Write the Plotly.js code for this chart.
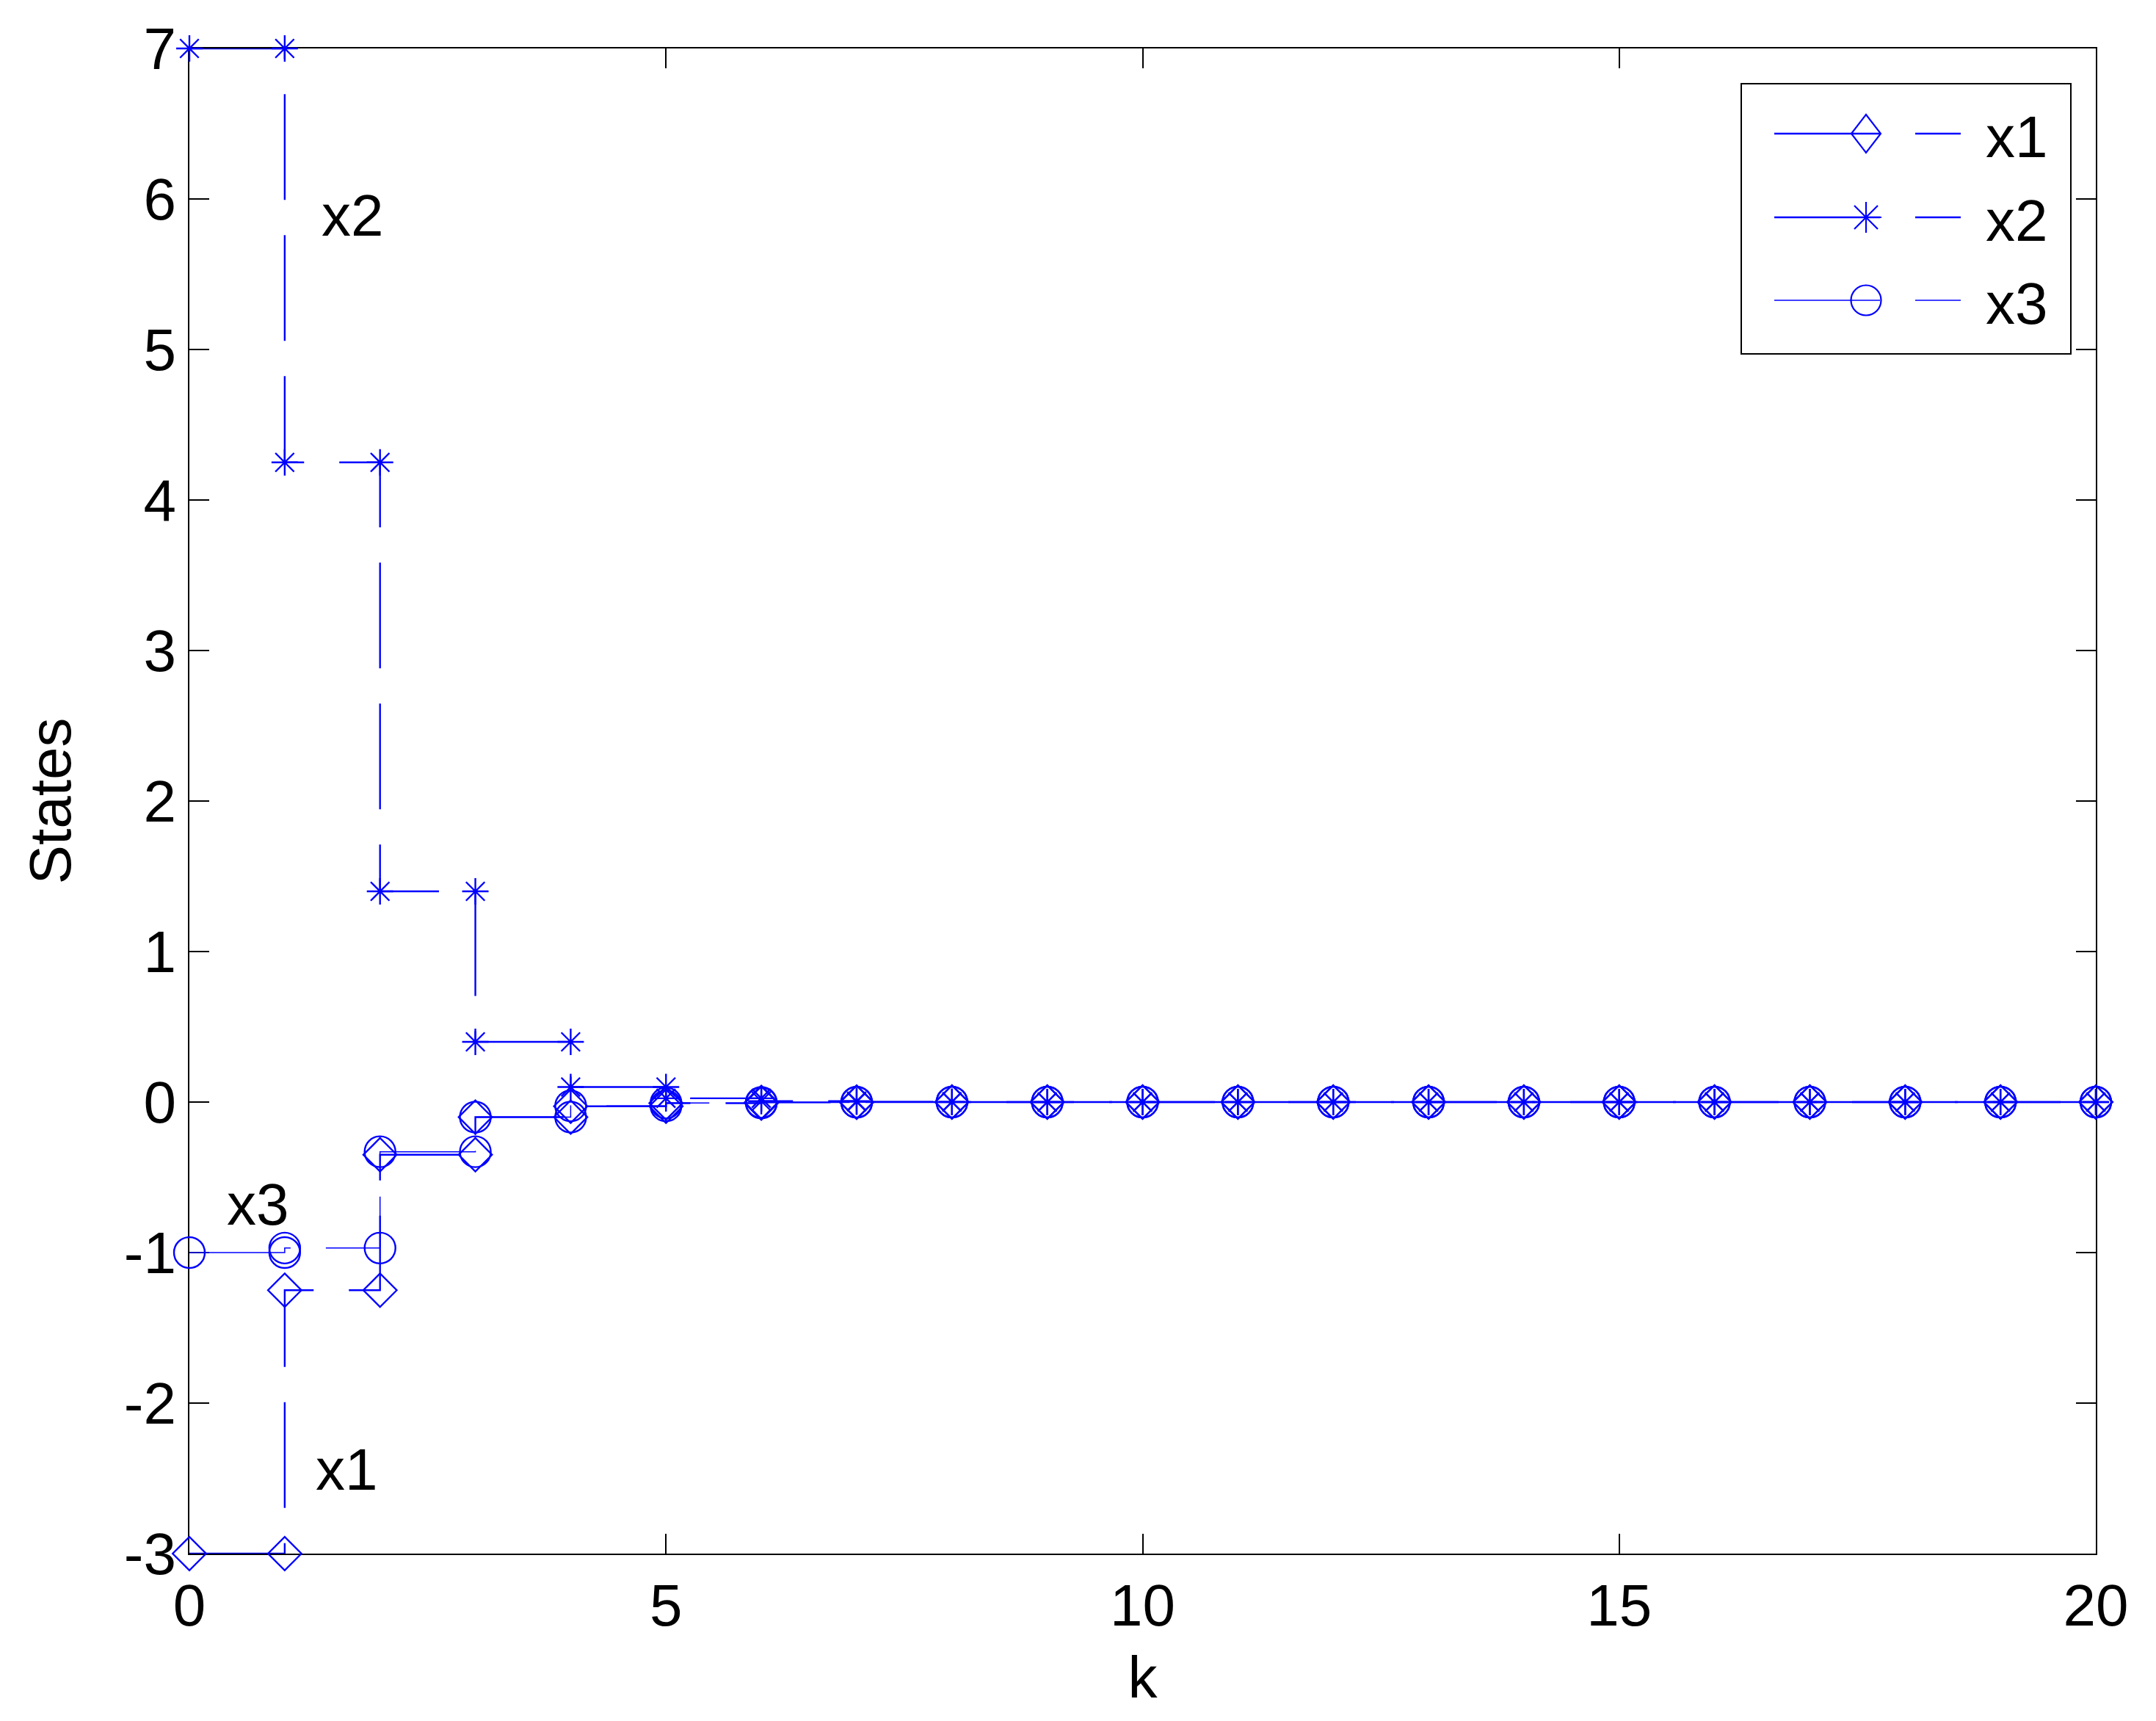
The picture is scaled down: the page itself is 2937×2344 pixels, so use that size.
<!DOCTYPE html>
<html>
<head>
<meta charset="utf-8">
<script src="https://cdn.plot.ly/plotly-3.0.1.min.js"></script>
<style>
  html, body { margin: 0; padding: 0; background: #ffffff; }
  #chart { width: 2937px; height: 2344px; }
</style>
</head>
<body>
<div id="chart"></div>
<script>
// ---- data ----
const k = [0, 1, 2, 3, 4, 5, 6, 7, 8, 9, 10, 11, 12, 13, 14, 15, 16, 17, 18, 19, 20];
const x1 = [-3, -1.25, -0.35, -0.10, -0.028, -0.007, -0.002, 0, 0, 0, 0, 0, 0, 0, 0, 0, 0, 0, 0, 0, 0];
const x2 = [7, 4.25, 1.4, 0.4, 0.1, 0.025, 0.006, 0.002, 0, 0, 0, 0, 0, 0, 0, 0, 0, 0, 0, 0, 0];
const x3 = [-1, -0.97, -0.33, -0.10, -0.025, -0.006, -0.002, 0, 0, 0, 0, 0, 0, 0, 0, 0, 0, 0, 0, 0, 0];
const seriesNames = ["x1", "x2", "x3"];
const labelText = ["x1", "x2", "x3"];
const labelK = [1.65, 1.71, 0.72];
const labelY = [-2.44, 5.89, -0.68];
const xTicks = [0, 5, 10, 15, 20];
const yTicks = [-3, -2, -1, 0, 1, 2, 3, 4, 5, 6, 7];

// stairs vertices (like MATLAB stairs): markers sit on every corner
function stairs(xs, ys) {
  const sx = [], sy = [];
  for (let i = 0; i < xs.length; i++) {
    sx.push(xs[i]); sy.push(ys[i]);
    if (i < xs.length - 1) { sx.push(xs[i + 1]); sy.push(ys[i]); }
  }
  return { x: sx, y: sy };
}

const BLUE = "#0000ff";
const DASH = "144px,48px";
const FONT = "Liberation Sans, Arial, sans-serif";
const styles = [
  { symbol: "diamond-open", size: 35, lw: 2.4 },
  { symbol: "asterisk-open", size: 30, lw: 2.4 },
  { symbol: "circle-open", size: 42, lw: 1.5 }
];
const data = [x1, x2, x3].map((ys, i) => {
  const s = stairs(k, ys);
  return {
    type: "scatter",
    mode: "lines+markers",
    name: seriesNames[i],
    showlegend: false,
    x: s.x, y: s.y,
    cliponaxis: false,
    line: { color: BLUE, width: styles[i].lw, dash: DASH, simplify: false },
    marker: { symbol: styles[i].symbol, size: styles[i].size, color: BLUE,
              line: { color: BLUE, width: 2.4 } }
  };
});

// ---- plot geometry (pixels) ----
const W = 2937, H = 2344;
const M = { l: 258, r: 82, t: 66, b: 228 };
const PW = W - M.l - M.r, PH = H - M.t - M.b;
const px = v => (v - M.l) / PW;          // pixel x -> paper x
const py = v => (H - M.b - v) / PH;      // pixel y -> paper y

// ---- legend box drawn like MATLAB's (box, dashed sample line, big marker, label) ----
const LEG = { left: 2372, right: 2821, top: 114, bottom: 482,
              rows: [182, 296, 409], lineX0: 2417, lineX1: 2671, markX: 2542, textX: 2703 };
const shapes = [{
  type: "rect", xref: "paper", yref: "paper", layer: "above",
  x0: px(LEG.left), x1: px(LEG.right), y0: py(LEG.bottom), y1: py(LEG.top),
  line: { color: "#000", width: 2 }, fillcolor: "#ffffff"
}];
const legendAnn = [];
seriesNames.forEach((name, i) => {
  const ry = LEG.rows[i];
  shapes.push({
    type: "line", xref: "paper", yref: "paper", layer: "above",
    x0: px(LEG.lineX0), x1: px(LEG.lineX1), y0: py(ry), y1: py(ry),
    line: { color: BLUE, width: styles[i].lw, dash: DASH }
  });
  const base = { xref: "paper", yref: "paper", layer: "above",
                 xsizemode: "pixel", ysizemode: "pixel",
                 xanchor: px(LEG.markX), yanchor: py(ry),
                 line: { color: BLUE, width: 2.2 } };
  if (styles[i].symbol.startsWith("diamond")) {
    shapes.push(Object.assign({ type: "path", path: "M-20,0 L0,26 L20,0 L0,-26 Z" }, base));
  } else if (styles[i].symbol.startsWith("asterisk")) {
    shapes.push(Object.assign({ type: "path",
      path: "M0,-21 L0,21 M-16,-16 L16,16 M-16,16 L16,-16 M-21,0 L21,0" }, base));
  } else {
    shapes.push(Object.assign({ type: "circle", x0: -20.5, x1: 20.5, y0: -20.5, y1: 20.5 }, base));
  }
  legendAnn.push({
    xref: "paper", yref: "paper", x: px(LEG.textX), y: py(ry + 4),
    xanchor: "left", yanchor: "middle", showarrow: false, text: name,
    font: { family: FONT, size: 80, color: "#000" }
  });
});

const annotations = labelText.map((t, i) => ({
  x: labelK[i], y: labelY[i], xref: "x", yref: "y", text: t, showarrow: false,
  font: { family: FONT, size: 80, color: "#000" }
})).concat(legendAnn);

const layout = {
  width: W, height: H,
  margin: { l: M.l, r: M.r, t: M.t, b: M.b, pad: 0 },
  paper_bgcolor: "#ffffff", plot_bgcolor: "#ffffff",
  font: { family: FONT, size: 80, color: "#000" },
  showlegend: false,
  xaxis: {
    range: [0, 20], tickvals: xTicks, ticktext: xTicks.map(String),
    ticks: "inside", ticklen: 27, tickwidth: 2, tickcolor: "#000",
    showline: true, linecolor: "#000", linewidth: 2, mirror: "ticks",
    showgrid: false, zeroline: false, layer: "below traces",
    tickfont: { family: FONT, size: 80, color: "#000" },
    title: { text: "k", font: { family: FONT, size: 80, color: "#000" }, standoff: 26 }
  },
  yaxis: {
    range: [-3, 7], tickvals: yTicks, ticktext: yTicks.map(String),
    ticks: "inside", ticklen: 27, tickwidth: 2, tickcolor: "#000",
    showline: true, linecolor: "#000", linewidth: 2, mirror: "ticks",
    showgrid: false, zeroline: false, layer: "below traces",
    tickfont: { family: FONT, size: 80, color: "#000" },
    title: { text: "States", font: { family: FONT, size: 80, color: "#000" }, standoff: 46 }
  },
  shapes: shapes,
  annotations: annotations
};

Plotly.newPlot("chart", data, layout, { staticPlot: true });
</script>
</body>
</html>
